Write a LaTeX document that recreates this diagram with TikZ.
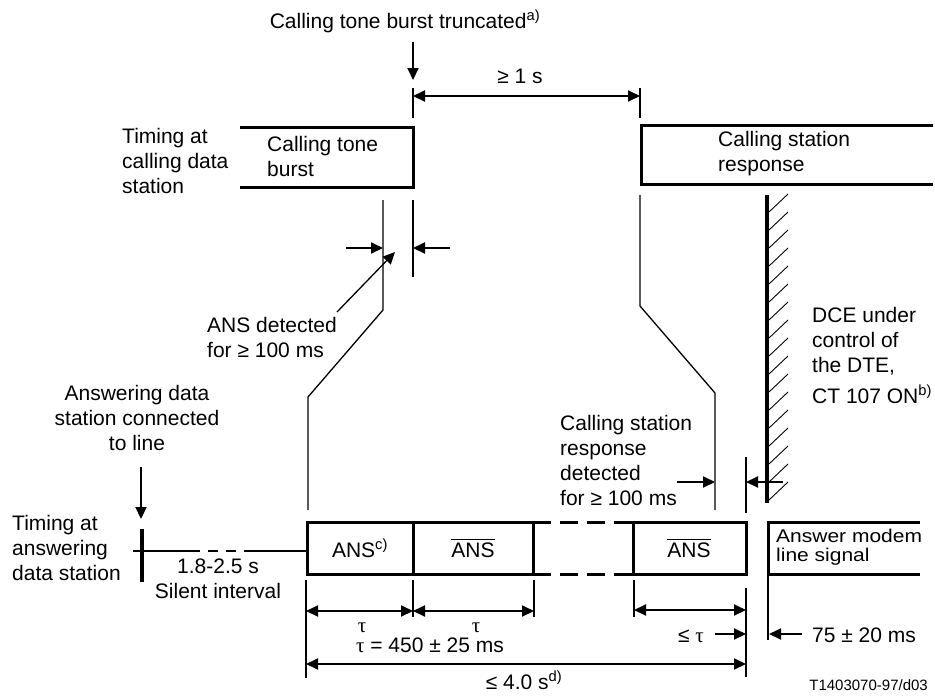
\documentclass[tikz,border=0pt]{standalone}
\usepackage{graphicx}
\usepackage{fontspec}
\setmainfont{Liberation Sans}
\newfontfamily\serfam{Liberation Serif}
\usetikzlibrary{arrows.meta}
\newcommand\tauc{{\serfam τ}}
\newcommand\barANS{\vbox{\hrule height 1.2pt\kern 2.5pt\hbox{ANS}}}
\newcommand\flatline[1]{\scalebox{1}[0.88]{#1}}
\begin{document}
\begin{tikzpicture}[x=1pt,y=-1pt,
  font=\fontsize{21}{25}\selectfont,
  thinline/.style={line width=1.3pt},
  dimline/.style={line width=2pt},
  boxline/.style={line width=3pt},
  hatchbar/.style={line width=4pt},
  tipr/.style={-{Triangle[length=12pt,width=11pt]}},
  dtip/.style={{Triangle[length=12pt,width=11pt]}-{Triangle[length=12pt,width=11pt]}},
  lbl/.style={inner sep=0pt}]
\useasboundingbox (0,0) rectangle (935,699);

% ---------- texts (multi-line nodes: base = baseline of last line) ----------
\node[lbl, anchor=base] (title) at (405,28) {Calling tone burst truncated\textsuperscript{a)}};
\node[lbl, anchor=base] (ge1) at (520,83) {≥ 1 s};
\node[lbl, anchor=base west, align=left] (tcall) at (122,193) {Timing at\\calling data\\station};
\node[lbl, anchor=base west, align=left] (ctb) at (267,176) {Calling tone\\burst};
\node[lbl, anchor=base west, align=left] (csr) at (718,171) {Calling station\\response};
\node[lbl, anchor=base west, align=left] (ansdet) at (207,357) {ANS detected\\for ≥ 100 ms};
\node[lbl, anchor=base west, align=left] (dce) at (812,403) {DCE under\\control of\\the DTE,\\[6pt]CT 107 ON\textsuperscript{b)}};
\node[lbl, anchor=base, align=center] (adsc) at (137,450) {Answering data\\station connected\\to line};
\node[lbl, anchor=base west, align=left] (csrd) at (560,505) {Calling station\\response\\detected\\for ≥ 100 ms};
\node[lbl, anchor=base west, align=left] (tans) at (12,580) {Timing at\\answering\\data station};
\node[lbl, anchor=base, align=center] (silent) at (218,598) {1.8-2.5 s\\Silent interval};
\node[lbl, anchor=base] (ans1) at (360,557) {ANS\textsuperscript{c)}};
\node[lbl, anchor=base] (ans2) at (473,557) {\barANS};
\node[lbl, anchor=base] (ans3) at (689,557) {\barANS};
\node[lbl, anchor=base west, align=left, font=\fontsize{21}{18.5}\selectfont] (amls) at (776,561) {\flatline{Answer modem}\\\flatline{line signal}};
\node[lbl, anchor=base] (t1) at (362,632) {\tauc};
\node[lbl, anchor=base] (t2) at (476,632) {\tauc};
\node[lbl, anchor=base] (teq) at (430,652) {\tauc{} = 450 ± 25 ms};
\node[lbl, anchor=base] (le4) at (524,689) {≤ 4.0 s\textsuperscript{d)}};
\node[lbl, anchor=base east] (let) at (704,642) {≤ \tauc};
\node[lbl, anchor=base west] (ms75) at (812,642) {75 ± 20 ms};
\node[lbl, anchor=base east, font=\fontsize{15}{18}\selectfont] (ref) at (928,690) {T1403070-97/d03};

% ---------- top: calling station ----------
\coordinate (trA) at (413,42);
\coordinate (trB) at (413,80);
\draw[dimline, tipr] (trA) -- (trB);
\draw[dimline] (413,88) -- (413,118);
\draw[dimline] (640,88) -- (640,118);
\draw[dimline, dtip] (413,96) -- (640,96);

\draw[boxline] (240,127) -- (413,127) -- (413,187) -- (240,187);
\draw[boxline] (933,125) -- (641,125) -- (641,184) -- (933,184);

% hatched DTE-control bar
\draw[hatchbar] (767,195) -- (767,503);
\foreach \k in {0,...,16}
  \draw[line width=0.9pt] (769,{212+18*\k}) -- (788,{194+18*\k});

% left projection line
\draw[thinline] (383,200) -- (383,310) -- (308,397) -- (308,510);
\draw[dimline] (413,200) -- (413,277);
\draw[dimline, tipr] (346,248) -- (383,248);
\draw[dimline, tipr] (450,248) -- (413,248);
\draw[thinline, tipr] (337,312) -- (395,252);

% right projection line
\draw[thinline] (640,195) -- (640,306) -- (715,393) -- (715,510);
\draw[dimline, tipr] (677,482) -- (715,482);
\draw[dimline] (746,457) -- (746,513);
\draw[dimline, tipr] (783,482) -- (746,482);

% ---------- bottom: answering station ----------
\draw[dimline, tipr] (141,467) -- (141,519);
\draw[hatchbar] (142,529) -- (142,582);
\draw[thinline] (133,551) -- (190,551);
\draw[thinline, dash pattern=on 10pt off 8pt] (190,551) -- (252,551);
\draw[thinline] (252,551) -- (307,551);

\draw[boxline] (307,522) rectangle (413,574);
\draw[boxline] (413,522) rectangle (533,574);
\draw[boxline, dash pattern=on 18pt off 9pt] (533,522) -- (633,522);
\draw[boxline, dash pattern=on 18pt off 9pt] (533,574) -- (633,574);
\draw[boxline] (633,522) rectangle (746,574);
\draw[boxline] (920,522) -- (768,522) -- (768,574) -- (920,574);
\draw[dimline] (768,574) -- (768,640);

% dimension lines
\draw[dimline] (306,580) -- (306,678);
\draw[dimline] (413,580) -- (413,617);
\draw[dimline] (534,580) -- (534,617);
\draw[dimline] (634,580) -- (634,617);
\draw[dimline] (746,588) -- (746,677);
\draw[dimline, dtip] (306,611) -- (413,611);
\draw[dimline, dtip] (413,611) -- (534,611);
\draw[dimline, dtip] (634,610) -- (746,610);
\draw[dimline, dtip] (306,664) -- (746,664);
\draw[dimline, tipr] (715,634) -- (746,634);
\draw[dimline, tipr] (802,634) -- (769,634);
\end{tikzpicture}
\end{document}
